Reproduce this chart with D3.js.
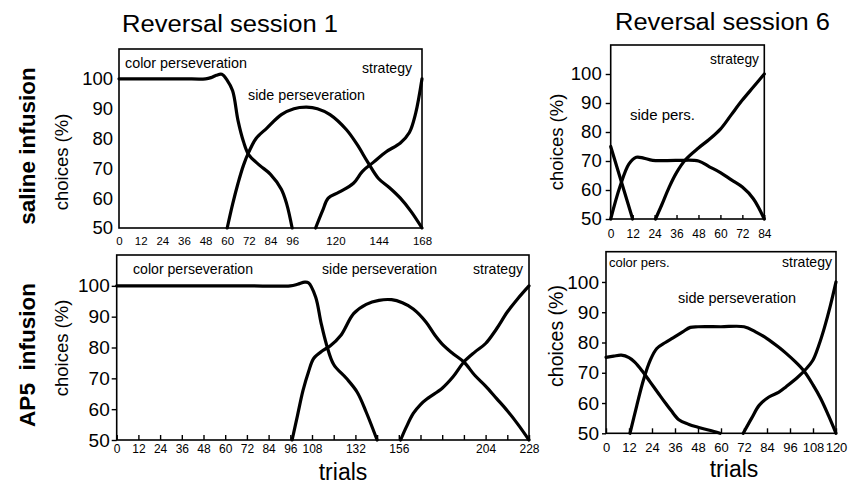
<!DOCTYPE html>
<html>
<head>
<meta charset="utf-8">
<script src="https://cdn.jsdelivr.net/npm/d3@7/dist/d3.min.js"></script>
<style>
  html, body { margin: 0; padding: 0; background: #fff; }
  svg { display: block; font-family: Arial, "Liberation Sans", sans-serif; }
  .tick text { fill: #000; }
</style>
</head>
<body>
<svg id="chart" width="861" height="484"></svg>
<script>
// Percentage of choices per strategy across trials: [trial, % choices]
const salineS1Color = [[0,100],[12,100],[24,100],[36,100],[48,100],[51,100.4],[54,101.2],[57,101.5],[60,99.5],[63,96],[66,86],[69,79],[72,74.5],[78,71],[84,68],[90,63],[93,58],[96,50]];
const salineS1Side = [[60,50],[63,58],[66,65],[69,71],[72,75.5],[76,80],[82,83.5],[90,88],[97,90],[104,90.5],[110,90],[117,88],[126,83],[132,78],[138,72],[144,66.5],[150,63.5],[156,60],[162,55.5],[168,50]];
const salineS1Strategy = [[109,50],[113,56],[116,60],[122,62],[130,65],[135,69],[141,72],[148,75.5],[156,78.5],[161,82],[164.5,88.5],[168,100]];

const salineS6Color = [[0,75],[6,62.5],[12,50]];
const salineS6Side = [[0,50],[5,61],[10,69],[14,71.3],[18,71],[23,70.2],[36,70.2],[48,70],[54,68],[60,66],[66,63.5],[72,61],[78,57],[84,50]];
const salineS6Strategy = [[24.5,50],[28,55],[32,61],[36,66],[41,70.5],[48,74.5],[54,77.5],[60,81],[66,86],[72,91],[78,95.5],[84,100]];

const ap5S1Color = [[0,100],[24,100],[48,100],[72,100],[96,100],[100,100.5],[104,101.2],[106,101],[110,96.4],[113,88],[116,81],[120,74.5],[127,70],[133,65.5],[138,59],[144,50]];
const ap5S1Side = [[97,50],[100,58],[103,66],[106,72],[109,76.5],[114,79],[118,80.5],[124,84],[131,91],[138,94],[145,95.3],[152,95.5],[158,94.5],[164,92.5],[171,88.3],[176,84],[181,80.5],[186,78],[192,75.3],[198,71],[204,67.5],[210,63.5],[216,59.5],[222,55],[228,50]];
const ap5S1Strategy = [[157,50],[160,54],[164,58.6],[168,61.5],[172,63.5],[180,66.8],[186,70.5],[192,75.3],[198,78.5],[204,81.3],[210,86],[216,91.5],[222,96],[228,100]];

const ap5S6Color = [[0,75.1],[4,75.5],[8,75.8],[12,75],[15,73.5],[19,70.5],[23,67],[27,63.5],[31,60],[34,57.5],[38,54.5],[43,53],[48,52],[54,51],[59.5,50]];
const ap5S6Side = [[12.5,50],[16,59],[19.5,67.5],[23,74],[26.5,78],[31,80],[35,81.5],[40,83.5],[44,85],[48,85.2],[60,85.2],[72,85.2],[78,83.5],[84,81.3],[90,78.5],[94,76.4],[99,73.5],[103,70.8],[108,66],[112,61.5],[116,56],[120,50]];
const ap5S6Strategy = [[71.6,50],[76,55],[80,59.3],[85,62],[90,63.5],[94,65.4],[100,68.5],[104,71],[108,74.2],[111,79],[114,85],[117,92],[120,100]];

// Axis ticks
const yTickValues = [50, 60, 70, 80, 90, 100];
const salineS1XLabels = [0,12,24,36,48,60,72,84,96,120,144,168];
const salineS6XLabels = [0,12,24,36,48,60,72,84];
const ap5S1XLabels = [0,12,24,36,48,60,72,84,96,108,132,156,204,228];
const ap5S6XLabels = [0,12,24,36,48,60,72,84,96,108,120];

const sessionTitles = ["Reversal session 1", "Reversal session 6"];
const rowTitles = ["saline infusion", "AP5  infusion"];
const yAxisTitle = "choices (%)";
const xAxisTitle = "trials";

const svg = d3.select("#chart");

function every12(max) { return d3.range(0, max + 1, 12); }

// Annotation entries: [text, x, baseline y, fitted width (0 = natural)]
const panels = [
  { box: [119, 422, 49, 228], xMax: 168, series: [salineS1Color, salineS1Side, salineS1Strategy],
    xLabels: salineS1XLabels, xMarks: salineS1XLabels, xTick: 0, yTick: 0, xFont: 11.5, xPad: 9, yFont: 18.5, yPad: 6,
    yTitle: { x: 68, y: 162, size: 18.5 },
    notes: [["color perseveration", 125, 68, 122], ["side perseveration", 248, 100, 117], ["strategy", 362, 73, 50]] },
  { box: [610.7, 764.3, 45, 219], xMax: 84, series: [salineS6Color, salineS6Side, salineS6Strategy],
    xLabels: salineS6XLabels, xMarks: every12(84), xTick: 4, yTick: 5, xFont: 12, xPad: 10.5, yFont: 18.5, yPad: 4,
    yTitle: { x: 563, y: 142, size: 18.5 },
    notes: [["strategy", 710, 64, 49], ["side pers.", 630, 120, 65]] },
  { box: [116.7, 529, 255, 440], xMax: 228, series: [ap5S1Color, ap5S1Side, ap5S1Strategy],
    xLabels: ap5S1XLabels, xMarks: every12(228), xTick: 5, yTick: 5, xFont: 12, xPad: 4.5, yFont: 19, yPad: 2,
    yTitle: { x: 68, y: 348, size: 18.5 },
    notes: [["color perseveration", 133, 274, 120], ["side perseveration", 322, 274, 115], ["strategy", 473, 274, 50]],
    xTitle: { x: 343, y: 480 } },
  { box: [606, 836, 251.7, 433.3], xMax: 120, series: [ap5S6Color, ap5S6Side, ap5S6Strategy],
    xLabels: ap5S6XLabels, xMarks: every12(120), xTick: 5, yTick: 4, xFont: 13, xPad: 9, yFont: 19, yPad: 3,
    yTitle: { x: 563, y: 336, size: 19.5 },
    notes: [["color pers.", 609, 267, 0], ["side perseveration", 678, 303, 118], ["strategy", 782, 267, 50]],
    xTitle: { x: 734, y: 477 } }
];

panels.forEach(p => {
  const [left, right, top, bottom] = p.box;
  const x = d3.scaleLinear().domain([0, p.xMax]).range([left, right]);
  const y = d3.scaleLinear().domain([50, 110]).range([bottom, top]);

  // Curves
  const line = d3.line().x(d => x(d[0])).y(d => y(d[1])).curve(d3.curveCatmullRom.alpha(0.5));
  const g = svg.append("g");
  p.series.forEach(s => {
    g.append("path").attr("d", line(s))
      .attr("fill", "none").attr("stroke", "#000")
      .attr("stroke-width", 3.2).attr("stroke-linejoin", "round").attr("stroke-linecap", "round");
  });

  // Frame
  svg.append("rect").attr("x", left).attr("y", top)
    .attr("width", right - left).attr("height", bottom - top)
    .attr("fill", "none").attr("stroke", "#000").attr("stroke-width", 1.6);

  // X axis: inward tick marks, labels on a subset
  const labelSet = new Set(p.xLabels);
  const xAxis = d3.axisBottom(x).tickValues(p.xMarks)
    .tickSizeInner(-p.xTick).tickSizeOuter(0).tickPadding(p.xPad)
    .tickFormat(v => labelSet.has(v) ? String(v) : "");
  const xg = svg.append("g").attr("transform", `translate(0,${bottom})`).call(xAxis);
  xg.select(".domain").remove();
  xg.selectAll(".tick line").attr("stroke", "#000").attr("stroke-width", 1.4);
  xg.selectAll(".tick text").attr("font-size", p.xFont).attr("font-family", "Arial, 'Liberation Sans', sans-serif");

  // Y axis
  const yAxis = d3.axisLeft(y).tickValues(yTickValues)
    .tickSizeInner(p.yTick).tickSizeOuter(0).tickPadding(p.yPad);
  const yg = svg.append("g").attr("transform", `translate(${left},0)`).call(yAxis);
  yg.select(".domain").remove();
  yg.selectAll(".tick line").attr("stroke", "#000").attr("stroke-width", 1.4);
  yg.selectAll(".tick text").attr("font-size", p.yFont).attr("font-family", "Arial, 'Liberation Sans', sans-serif");

  // Y axis title
  svg.append("text").text(yAxisTitle)
    .attr("transform", `translate(${p.yTitle.x},${p.yTitle.y}) rotate(-90)`)
    .attr("text-anchor", "middle").attr("font-size", p.yTitle.size);

  // Curve annotations
  p.notes.forEach(([t, tx, ty, w]) => {
    const txt = svg.append("text").text(t).attr("x", tx).attr("y", ty);
    if (w > 0) {
      txt.attr("font-size", 14.5).attr("textLength", w).attr("lengthAdjust", "spacingAndGlyphs");
    } else {
      txt.attr("font-size", 13);
    }
  });

  if (p.xTitle) {
    svg.append("text").text(xAxisTitle).attr("x", p.xTitle.x).attr("y", p.xTitle.y)
      .attr("text-anchor", "middle").attr("font-size", 23);
  }
});

// Session titles
svg.append("text").text(sessionTitles[0]).attr("x", 122).attr("y", 31.5)
  .attr("font-size", 23.5).attr("textLength", 216).attr("lengthAdjust", "spacingAndGlyphs");
svg.append("text").text(sessionTitles[1]).attr("x", 615).attr("y", 29.5)
  .attr("font-size", 23.5).attr("textLength", 215).attr("lengthAdjust", "spacingAndGlyphs");

// Row titles
svg.append("text").text(rowTitles[0])
  .attr("transform", "translate(35,146) rotate(-90)")
  .attr("text-anchor", "middle").attr("font-size", 22.5).attr("font-weight", "bold");
svg.append("text").text(rowTitles[1]).style("white-space", "pre")
  .attr("transform", "translate(35,355) rotate(-90)")
  .attr("text-anchor", "middle").attr("font-size", 22.5).attr("font-weight", "bold");
</script>
</body>
</html>
